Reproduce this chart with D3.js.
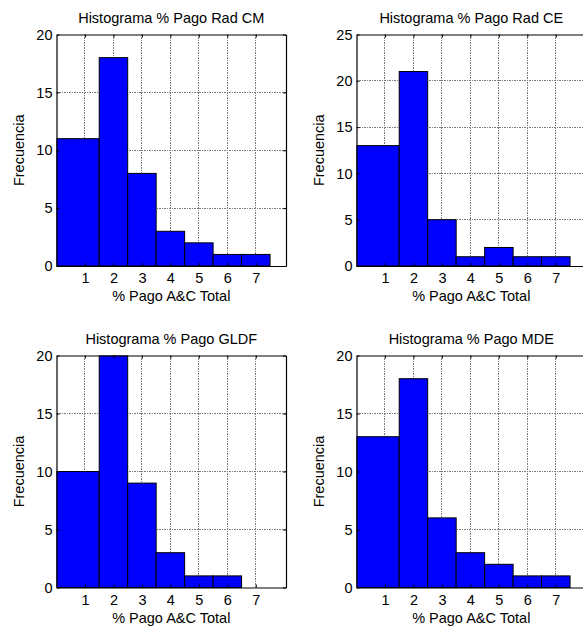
<!DOCTYPE html>
<html>
<head>
<meta charset="utf-8">
<script src="https://cdn.jsdelivr.net/npm/d3@7"></script>
<style>
  html, body { margin: 0; padding: 0; background: #fff; }
  svg { display: block; font-family: "Liberation Sans", Arial, sans-serif; }
</style>
</head>
<body>
<svg id="fig" width="583" height="628"></svg>
<script>
// Histogram bin centres (shared x categories) and counts per series
const categories = [1, 2, 3, 4, 5, 6, 7];
const radCM = [11, 18, 8, 3, 2, 1, 1];
const radCE = [13, 21, 5, 1, 2, 1, 1];
const gldf  = [10, 20, 9, 3, 1, 1, 0];
const mde   = [13, 18, 6, 3, 2, 1, 1];

const titles = [
  "Histograma % Pago Rad CM",
  "Histograma % Pago Rad CE",
  "Histograma % Pago GLDF",
  "Histograma % Pago MDE"
];
const yTicksA = [0, 5, 10, 15, 20];
const yTicksB = [0, 5, 10, 15, 20, 25];
const xLabel = "% Pago A&C Total";
const yLabel = "Frecuencia";

const series = [radCM, radCE, gldf, mde];
const yTickSets = [yTicksA, yTicksB, yTicksA, yTicksA];

// subplot frames (2 x 2 grid)
const frames = [
  { left: 56.5,  top: 34.5,  width: 229.5, height: 231.5 },
  { left: 356.5, top: 34.5,  width: 229.5, height: 231.5 },
  { left: 56.5,  top: 355.5, width: 229.5, height: 232 },
  { left: 356.5, top: 355.5, width: 229.5, height: 232 }
];
const xMax = 8.06;
const binWidth = 1;
const fontSize = 14.5;

const svg = d3.select("#fig");

series.forEach((values, i) => {
  const f = frames[i];
  const yTicks = yTickSets[i];
  const g = svg.append("g").attr("transform", `translate(${f.left},${f.top})`);

  const x = d3.scaleLinear().domain([0, xMax]).range([0, f.width]);
  const y = d3.scaleLinear().domain([0, d3.max(yTicks)]).range([f.height, 0]);

  // dotted grid
  const grid = g.append("g").attr("class", "grid");
  grid.selectAll("line.vx").data(categories).join("line")
    .attr("x1", d => x(d)).attr("x2", d => x(d))
    .attr("y1", 0).attr("y2", f.height);
  grid.selectAll("line.hy").data(yTicks.slice(1, -1)).join("line")
    .attr("class", "hy")
    .attr("x1", 0).attr("x2", f.width)
    .attr("y1", d => y(d)).attr("y2", d => y(d));
  grid.selectAll("line")
    .attr("stroke", "#7a7a7a")
    .attr("stroke-width", 1)
    .attr("stroke-dasharray", "1.5,1")
    .attr("shape-rendering", "crispEdges");

  // bars — the first bin is open below, so it reaches the axis minimum
  const clipId = "clip" + i;
  g.append("clipPath").attr("id", clipId)
    .append("rect").attr("width", f.width).attr("height", f.height + 1);
  g.append("g").attr("clip-path", `url(#${clipId})`)
    .selectAll("rect").data(categories).join("rect")
    .attr("x", (d, k) => k === 0 ? x(0) : x(d - binWidth / 2))
    .attr("width", (d, k) => (k === 0 ? x(d + binWidth / 2) - x(0) : x(d + binWidth / 2) - x(d - binWidth / 2)))
    .attr("y", (d, k) => y(values[k]))
    .attr("height", (d, k) => y(0) - y(values[k]))
    .attr("fill", "#0000ff")
    .attr("stroke", "#000")
    .attr("stroke-width", 1);

  // axes with inward ticks
  const bottom = d3.axisBottom(x).tickValues(categories).tickFormat(d3.format("d"))
    .tickSizeInner(-3).tickSizeOuter(0).tickPadding(7);
  const top = d3.axisTop(x).tickValues(categories).tickFormat("")
    .tickSizeInner(-3).tickSizeOuter(0);
  const left = d3.axisLeft(y).tickValues(yTicks).tickFormat(d3.format("d"))
    .tickSizeInner(-3).tickSizeOuter(0).tickPadding(4);
  const right = d3.axisRight(y).tickValues(yTicks).tickFormat("")
    .tickSizeInner(-3).tickSizeOuter(0);

  const gb = g.append("g").attr("transform", `translate(0,${f.height})`).call(bottom);
  const gt = g.append("g").call(top);
  const gl = g.append("g").call(left);
  const gr = g.append("g").attr("transform", `translate(${f.width},0)`).call(right);

  [gb, gt, gl, gr].forEach(a => {
    a.attr("font-family", null).attr("font-size", null);
    a.select(".domain").attr("stroke", "#000").attr("stroke-width", 1.2);
    a.selectAll(".tick line").attr("stroke", "#000");
    a.selectAll("text").attr("fill", "#000").style("font-size", fontSize + "px");
  });

  // labels
  g.append("text")
    .attr("x", f.width / 2).attr("y", -12)
    .attr("text-anchor", "middle")
    .style("font-size", fontSize + "px")
    .text(titles[i]);
  g.append("text")
    .attr("x", f.width / 2).attr("y", f.height + 35)
    .attr("text-anchor", "middle")
    .style("font-size", fontSize + "px")
    .text(xLabel);
  g.append("text")
    .attr("transform", `translate(-33,${f.height / 2}) rotate(-90)`)
    .attr("text-anchor", "middle")
    .style("font-size", fontSize + "px")
    .text(yLabel);
});
</script>
</body>
</html>
